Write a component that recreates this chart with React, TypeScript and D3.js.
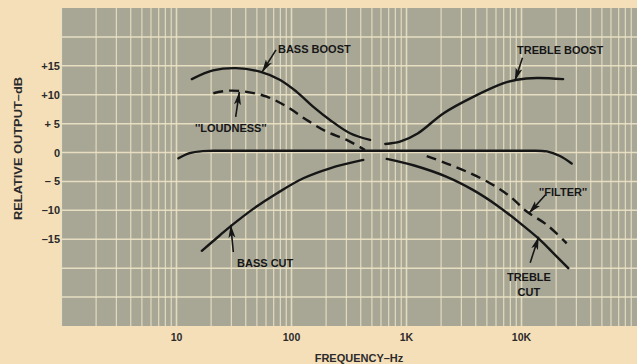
import React from "react";
import * as d3 from "d3";

const W = 637;
const H = 364;

// Y axis tick values/labels (dB)
const yTickValues = [15, 10, 5, 0, -5, -10, -15];
const yTickLabels = ["+15", "+10", "+ 5", "0", "\u2013 5", "\u201310", "\u201315"];
// horizontal grid lines (dB)
const yGrid = [20, 15, 10, 5, 0, -5, -10, -15, -20, -25];
// X axis ticks
const xTickValues = [10, 100, 1000, 10000];
const xTickLabels = ["10", "100", "1K", "10K"];

// Curves: frequency (Hz) and relative output (dB)
const bassBoostF = [13.6, 20.8, 33, 53, 79, 111, 154, 216, 323, 482];
const bassBoostDb = [12.7, 14.2, 14.6, 14.0, 12.6, 10.5, 7.95, 5.64, 3.34, 2.18];

const loudnessF = [20.9, 28.3, 40.8, 60.9, 90.9, 135.6, 202, 302, 436];
const loudnessDb = [10.26, 10.7, 10.5, 9.67, 7.94, 5.64, 3.62, 2.18, 0.45];

const flatF = [10.4, 13, 17, 24, 40, 100, 1000, 10000, 16600, 21600, 27300];
const flatDb = [-1.0, -0.1, 0.25, 0.3, 0.3, 0.3, 0.3, 0.3, 0.2, -0.6, -1.9];

const bassCutF = [16.6, 23.9, 30.2, 46.5, 74.3, 126.7, 216, 421];
const bassCutDb = [-17.0, -14.3, -12.6, -9.74, -7.08, -4.45, -2.72, -1.28];

const trebleBoostF = [654, 878, 1250, 2105, 3840, 7000, 9140, 13600, 23000];
const trebleBoostDb = [1.49, 1.88, 3.3, 6.8, 9.67, 12.0, 12.6, 12.9, 12.7];

const trebleCutF = [673, 1147, 2238, 3810, 6085, 9710, 14500, 18900, 25500];
const trebleCutDb = [-1.1, -2.2, -4.2, -6.5, -9.1, -12.2, -15.1, -17.4, -20.0];

const filterF = [1499, 2238, 3337, 5320, 7940, 11100, 16600, 24700];
const filterDb = [-0.6, -1.9, -3.3, -5.3, -7.6, -10.2, -12.5, -15.7];

// Annotation labels (anchored in data space)
const labelTexts = ["BASS BOOST", "TREBLE BOOST", "''LOUDNESS''", "BASS CUT", "''FILTER''", "TREBLE", "CUT"];
const labelF = [76.3, 9140, 14.5, 33.6, 14200, 11600, 11600];
const labelDb = [17.9, 17.8, 4.3, -19.05, -6.76, -21.5, -24.1];
const labelAnchor = ["start", "start", "start", "start", "start", "middle", "middle"];

// Annotation arrows: tail (F, dB) -> head (F, dB)
const arrowTailF = [73.3, 10200, 32.7, 31.2, 16100, 11900];
const arrowTailDb = [17.75, 16.4, 6.16, -17.2, -7.33, -19.05];
const arrowHeadF = [55.4, 8770, 35.2, 29.6, 11600, 14100];
const arrowHeadDb = [13.9, 12.4, 10.5, -12.5, -10.5, -14.55];

const PAGE_BG = "#f5dfb9";
const PLOT_BG = "#a8a796";
const GRID = "#eee4c6";
const INK = "#161616";

export default function App() {
  const x = d3.scaleLog().domain([1, 100000]).range([61.5, 636.5]);
  const y = d3.scaleLinear().domain([-30, 25]).range([326, 8]);

  const line = d3
    .line<[number, number]>()
    .x((d) => x(d[0]))
    .y((d) => y(d[1]))
    .curve(d3.curveCatmullRom.alpha(0.5));

  const zip = (f: number[], v: number[]) => f.map((ff, i) => [ff, v[i]] as [number, number]);

  const solid = [
    zip(bassBoostF, bassBoostDb),
    zip(flatF, flatDb),
    zip(bassCutF, bassCutDb),
    zip(trebleBoostF, trebleBoostDb),
    zip(trebleCutF, trebleCutDb),
  ];
  const dashed = [zip(loudnessF, loudnessDb), zip(filterF, filterDb)];

  // minor log grid
  const vGrid: number[] = [];
  for (let dec = 1; dec < 100000; dec *= 10) {
    for (let k = 1; k < 10; k++) vGrid.push(dec * k);
  }

  const [x0, x1] = x.range();
  const [yb, yt] = y.range();

  return (
    <div style={{ width: W, height: H, background: PAGE_BG, position: "absolute", left: 0, top: 0 }}>
      <style>{`body{margin:0}`}</style>
      <svg width={W} height={H} style={{ display: "block" }} fontFamily="'Liberation Sans', Arial, sans-serif">
        <defs>
          <marker id="ah" markerUnits="userSpaceOnUse" markerWidth="14" markerHeight="8" refX="13" refY="4" orient="auto">
            <path d="M0,0.5 L13,4 L0,7.5 L3,4 Z" fill={INK} />
          </marker>
        </defs>
        <rect x={0} y={0} width={W} height={H} fill={PAGE_BG} />
        <rect x={x0} y={yt} width={x1 - x0 + 1} height={yb - yt} fill={PLOT_BG} />
        {vGrid.map((f, i) => (
          <line
            key={"v" + i}
            x1={x(f)}
            x2={x(f)}
            y1={yt}
            y2={yb}
            stroke={GRID}
            strokeWidth={f === 10 || f === 100 || f === 1000 || f === 10000 ? 1.6 : 1.2}
            opacity={0.85}
          />
        ))}
        {yGrid.map((v, i) => (
          <line key={"h" + i} x1={x0} x2={x1 + 1} y1={y(v)} y2={y(v)} stroke={GRID} strokeWidth={1.5} opacity={0.9} />
        ))}

        {solid.map((d, i) => (
          <path key={"s" + i} d={line(d) || ""} fill="none" stroke={INK} strokeWidth={2.4} strokeLinecap="round" />
        ))}
        {dashed.map((d, i) => (
          <path key={"d" + i} d={line(d) || ""} fill="none" stroke={INK} strokeWidth={2.4} strokeDasharray="10,6" />
        ))}

        {arrowTailF.map((f, i) => (
          <line
            key={"a" + i}
            x1={x(f)}
            y1={y(arrowTailDb[i])}
            x2={x(arrowHeadF[i])}
            y2={y(arrowHeadDb[i])}
            stroke={INK}
            strokeWidth={1.6}
            markerEnd="url(#ah)"
          />
        ))}
        {labelTexts.map((t, i) => (
          <text
            key={"l" + i}
            x={x(labelF[i])}
            y={y(labelDb[i])}
            dy="0.36em"
            textAnchor={labelAnchor[i] as any}
            fontSize={11}
            fontWeight="bold"
            fill={INK}
          >
            {t}
          </text>
        ))}

        {yTickValues.map((v, i) => (
          <text key={"yt" + i} x={60} y={y(v)} dy="0.36em" textAnchor="end" fontSize={11} fontWeight="bold" fill="#2b2b2b">
            {yTickLabels[i]}
          </text>
        ))}
        {xTickValues.map((v, i) => (
          <text key={"xt" + i} x={x(v)} y={337} dy="0.36em" textAnchor="middle" fontSize={10.5} fontWeight="bold" fill="#2b2b2b">
            {xTickLabels[i]}
          </text>
        ))}
        <text x={359} y={358} dy="0.36em" textAnchor="middle" fontSize={11} fontWeight="bold" fill="#2b2b2b">
          FREQUENCY{"\u2013"}Hz
        </text>
        <text
          transform={`translate(18,148.5) rotate(-90)`}
          dy="0.36em"
          textAnchor="middle"
          fontSize={11}
          fontWeight="bold"
          fill="#2b2b2b"
          textLength={143}
          lengthAdjust="spacingAndGlyphs"
        >
          RELATIVE OUTPUT{"\u2013"}dB
        </text>
      </svg>
    </div>
  );
}
